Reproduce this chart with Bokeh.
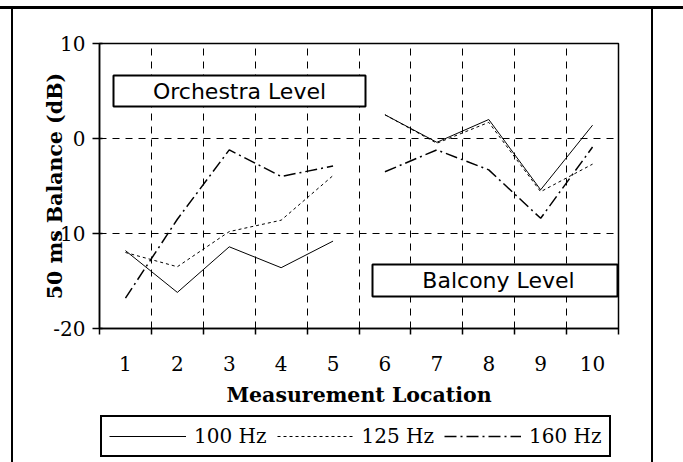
from bokeh.plotting import figure
from bokeh.layouts import column, row
from bokeh.models import (Range1d, FixedTicker, Legend, LegendItem, BoxAnnotation,
                          Label, Div, Spacer)
from bokeh.embed import file_html
from bokeh.resources import INLINE

# ---- data ----
x_orch = [1, 2, 3, 4, 5]
x_balc = [6, 7, 8, 9, 10]
hz100_orch = [-11.8, -16.2, -11.4, -13.6, -10.8]
hz100_balc = [2.5, -0.4, 2.0, -5.4, 1.4]
hz125_orch = [-12.0, -13.5, -9.8, -8.6, -3.9]
hz125_balc = [2.5, -0.5, 1.7, -5.6, -2.7]
hz160_orch = [-16.8, -8.5, -1.2, -4.0, -2.9]
hz160_balc = [-3.5, -1.2, -3.3, -8.4, -0.9]
series_names = ["100 Hz", "125 Hz", "160 Hz"]

x_ticks = [1, 2, 3, 4, 5, 6, 7, 8, 9, 10]
x_labels = ["1", "2", "3", "4", "5", "6", "7", "8", "9", "10"]
x_bounds = [0.5, 1.5, 2.5, 3.5, 4.5, 5.5, 6.5, 7.5, 8.5, 9.5, 10.5]
y_ticks = [-20, -10, 0, 10]
y_labels = ["-20", "-10", "0", "10"]
box_texts = ["Orchestra Level", "Balcony Level"]

series = {
    "100 Hz": (hz100_orch, hz100_balc),
    "125 Hz": (hz125_orch, hz125_balc),
    "160 Hz": (hz160_orch, hz160_balc),
}
styles = {
    "100 Hz": dict(line_color="black", line_width=1),
    "125 Hz": dict(line_color="black", line_width=1, line_dash="3 3"),
    "160 Hz": dict(line_color="black", line_width=1.5, line_dash="12 4 2 4"),
}

p = figure(width=638, height=400,
           x_range=Range1d(0.5, 10.5), y_range=Range1d(-20, 10),
           output_backend="svg", toolbar_location=None,
           min_border_left=86, min_border_right=33,
           min_border_top=34, min_border_bottom=80)
p.margin = 0
p.background_fill_color = "white"
p.border_fill_color = "white"
p.outline_line_color = "black"
p.outline_line_width = 1.5

# axes
xa = p.xaxis[0]
xa.ticker = FixedTicker(ticks=x_ticks, minor_ticks=x_bounds)
xa.major_label_overrides = {t: l for t, l in zip(x_ticks, x_labels)}
xa.major_tick_line_color = None
xa.major_tick_in = 0
xa.major_tick_out = 0
xa.minor_tick_line_color = "black"
xa.minor_tick_in = 0
xa.minor_tick_out = 6
xa.minor_tick_line_width = 1.5
xa.axis_line_color = "black"
xa.axis_line_width = 1.5
xa.major_label_text_font = "DejaVu Serif"
xa.major_label_text_font_size = "20px"
xa.major_label_text_color = "black"
xa.major_label_standoff = 21
xa.axis_label = "Measurement Location"
xa.axis_label_text_font = "DejaVu Serif"
xa.axis_label_text_font_style = "bold"
xa.axis_label_text_font_size = "20.5px"
xa.axis_label_text_color = "black"
xa.axis_label_standoff = 9

ya = p.yaxis[0]
ya.ticker = FixedTicker(ticks=y_ticks, minor_ticks=[])
ya.major_label_overrides = {t: l for t, l in zip(y_ticks, y_labels)}
ya.major_tick_in = 3
ya.major_tick_out = 7
ya.major_tick_line_width = 1.5
ya.major_tick_line_color = "black"
ya.minor_tick_line_color = None
ya.axis_line_color = "black"
ya.axis_line_width = 1.5
ya.major_label_text_font = "DejaVu Serif"
ya.major_label_text_font_size = "20px"
ya.major_label_text_color = "black"
ya.major_label_standoff = 7
ya.axis_label = "50 ms Balance (dB)"
ya.axis_label_text_font = "DejaVu Serif"
ya.axis_label_text_font_style = "bold"
ya.axis_label_text_font_size = "20.5px"
ya.axis_label_text_color = "black"
ya.axis_label_standoff = -17

# grids
p.xgrid.grid_line_color = None
p.xgrid.minor_grid_line_color = "black"
p.xgrid.minor_grid_line_dash = "7 6"
p.xgrid.minor_grid_line_width = 1
p.ygrid.ticker = FixedTicker(ticks=y_ticks)
p.ygrid.grid_line_color = "black"
p.ygrid.grid_line_dash = "7 6"
p.ygrid.grid_line_width = 1

# series
for name in series_names:
    orch, balc = series[name]
    p.multi_line(xs=[x_orch, x_balc], ys=[orch, balc], **styles[name])

# text boxes (screen units relative to the plot frame)
p.add_layout(BoxAnnotation(left=14, right=266, bottom=222, top=253,
                           left_units="screen", right_units="screen",
                           bottom_units="screen", top_units="screen",
                           fill_color="white", fill_alpha=1,
                           line_color="black", line_alpha=1, line_width=2))
p.add_layout(Label(x=140, y=237, x_units="screen", y_units="screen",
                   text=box_texts[0], text_font="DejaVu Sans", text_font_size="22px",
                   text_align="center", text_baseline="middle", text_color="black"))
p.add_layout(BoxAnnotation(left=273, right=518, bottom=32, top=64,
                           left_units="screen", right_units="screen",
                           bottom_units="screen", top_units="screen",
                           fill_color="white", fill_alpha=1,
                           line_color="black", line_alpha=1, line_width=2))
p.add_layout(Label(x=399, y=48, x_units="screen", y_units="screen",
                   text=box_texts[1], text_font="DejaVu Sans", text_font_size="22px",
                   text_align="center", text_baseline="middle", text_color="black"))

# legend strip: same series in a strip whose y-range keeps them out of view
lfig = figure(width=638, height=53, x_range=Range1d(0.5, 10.5),
              y_range=Range1d(100, 101),
              x_axis_type=None, y_axis_type=None, output_backend="svg",
              toolbar_location=None, min_border=0)
lfig.margin = 0
lfig.outline_line_color = None
lfig.background_fill_color = "white"
lfig.border_fill_color = "white"
items = []
for name in series_names:
    orch, balc = series[name]
    r = lfig.multi_line(xs=[x_orch, x_balc], ys=[orch, balc], **styles[name])
    items.append(LegendItem(label=name, renderers=[r]))
legend = Legend(items=items, location=(1, 5), orientation="horizontal")
legend.border_line_color = "black"
legend.border_line_width = 2
legend.border_line_alpha = 1
legend.background_fill_color = "white"
legend.background_fill_alpha = 1
legend.label_text_font = "DejaVu Serif"
legend.label_text_font_size = "20px"
legend.label_text_color = "black"
legend.glyph_width = 77
legend.glyph_height = 20
legend.label_standoff = 8
legend.spacing = 10
legend.padding = 7
legend.margin = 0
lfig.add_layout(legend, "center")

# outer frame (page border lines)
top_line = Div(text="", width=683, height=3, margin=0,
               styles={"background-color": "black"})
left_line = Div(text="", width=2, height=453, margin=0,
                styles={"background-color": "black"})
right_line = Div(text="", width=2, height=453, margin=0,
                 styles={"background-color": "black"})
page = column(Spacer(width=683, height=6, margin=0),
              top_line,
              row(Spacer(width=11, height=453, margin=0), left_line,
                  column(p, lfig, spacing=0, margin=0), right_line,
                  spacing=0, margin=0),
              spacing=0, margin=0)

open("out.html", "w").write(file_html(page, INLINE))
